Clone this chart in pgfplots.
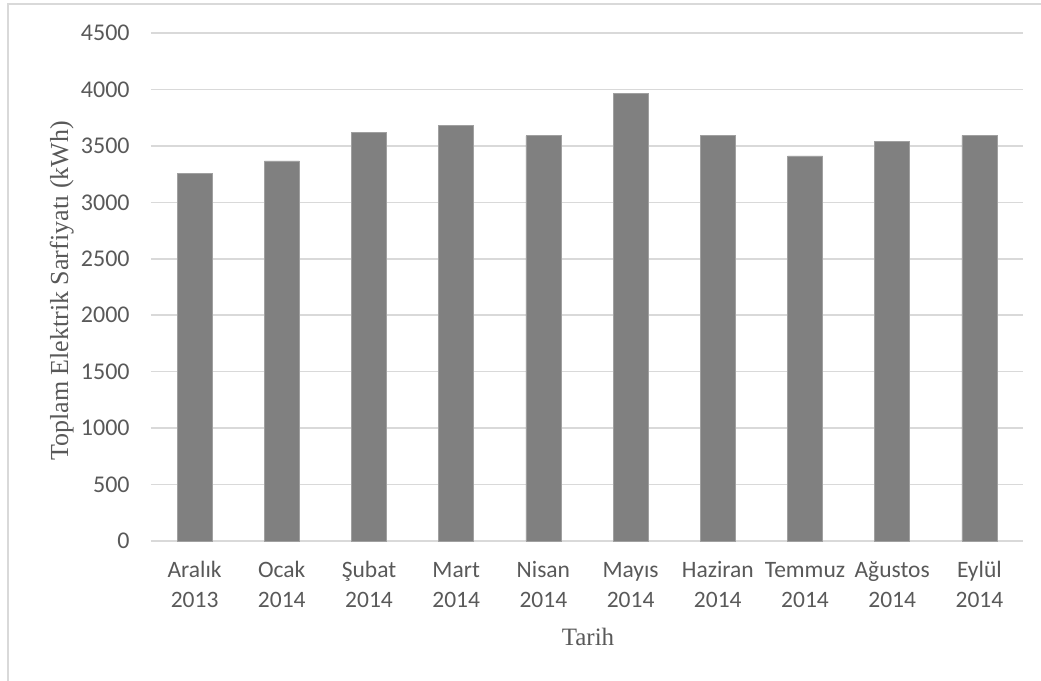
\documentclass[border=0pt]{standalone}
\usepackage{pgfplots}
\pgfplotsset{compat=1.18}
\usepackage{fontspec}
\setmainfont{Liberation Serif}
\newfontfamily\calibri{Carlito}
\definecolor{barc}{HTML}{808080}
\definecolor{baredge}{HTML}{A0A0A0}
\definecolor{gridc}{HTML}{D9D9D9}
\definecolor{txt}{HTML}{595959}
\definecolor{framec}{HTML}{D9D9D9}
\begin{document}
\begin{tikzpicture}
\useasboundingbox (0,0) rectangle (520.5pt,340.5pt);
\draw[framec, line width=0.75pt] (4pt,0pt) -- (4pt,338.5pt) -- (520.5pt,338.5pt);
\begin{axis}[
  at={(75.5pt,70pt)}, anchor=south west,
  scale only axis, width=436pt, height=254pt,
  ybar, bar width=17.5pt,
  xmin=-0.5, xmax=9.5, ymin=0, ymax=4500,
  ytick={0,500,...,4500},
  xtick={0,...,9},
  xticklabels={
    {\rule{0pt}{10pt}Aralık\\2013},
    {\rule{0pt}{10pt}Ocak\\2014},
    {\rule{0pt}{10pt}Şubat\\2014},
    {\rule{0pt}{10pt}Mart\\2014},
    {\rule{0pt}{10pt}Nisan\\2014},
    {\rule{0pt}{10pt}Mayıs\\2014},
    {\rule{0pt}{10pt}Haziran\\2014},
    {\rule{0pt}{10pt}Temmuz\\2014},
    {\rule{0pt}{10pt}Ağustos\\2014},
    {\rule{0pt}{10pt}Eylül\\2014}},
  major tick length=0pt,
  axis line style={draw=none},
  ymajorgrids, grid style={gridc, line width=0.75pt},
  /pgf/number format/assume math mode=true,
  scaled y ticks=false,
  yticklabel style={font=\calibri\fontsize{12}{14}\selectfont, text=txt, anchor=east, inner sep=0pt, xshift=-10.5pt},
  xticklabel style={font=\calibri\fontsize{11.75}{15}\selectfont, text=txt, anchor=north, align=center, inner sep=0pt, yshift=-7.85pt},
  yticklabel={\pgfmathprintnumber[fixed, 1000 sep={}]{\tick}},
  clip=false,
]
\addplot[fill=barc, draw=baredge, line width=0.4pt] coordinates {
  (0,3254) (1,3367) (2,3621) (3,3678) (4,3589)
  (5,3961) (6,3594) (7,3411) (8,3538) (9,3594)
};
\end{axis}
\node[anchor=base, text=txt, font=\fontsize{12.5}{15}\selectfont, inner sep=0pt] at (294pt,17.5pt) {Tarih};
\node[anchor=base, rotate=90, text=txt, font=\fontsize{13}{15}\selectfont, inner sep=0pt] at (34pt,195pt) {Toplam Elektrik Sarfiyatı (kWh)};
\end{tikzpicture}
\end{document}
